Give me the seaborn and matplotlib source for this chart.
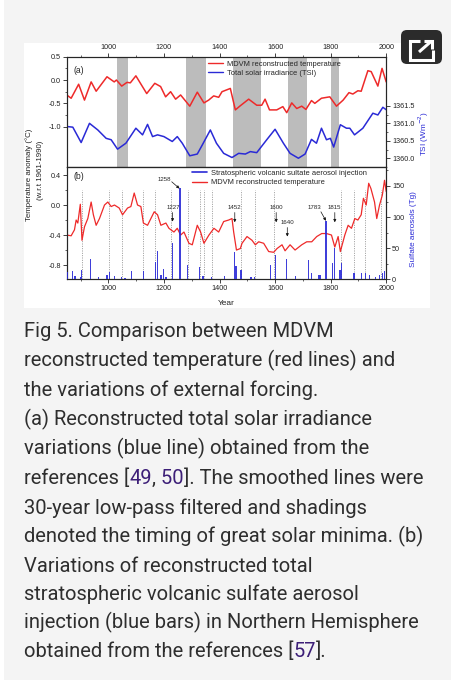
import matplotlib
matplotlib.use("Agg")
import matplotlib.pyplot as plt
import seaborn as sns
import pandas as pd
from matplotlib.patches import Rectangle, FancyBboxPatch
from matplotlib.lines import Line2D
from matplotlib.ticker import FixedLocator

# ---------------- data ----------------
years_a = [850, 866, 893, 914, 938, 956, 995, 1021, 1029, 1048, 1067, 1079, 1099, 1138, 1167,
           1188, 1206, 1224, 1242, 1260, 1293, 1320, 1344, 1361, 1379, 1397, 1409, 1439, 1457, 1473,
           1505, 1534, 1552, 1564, 1580, 1606, 1628, 1642, 1660, 1678, 1696, 1711, 1731, 1743, 1767,
           1797, 1821, 1845, 1866, 1880, 1898, 1910, 1934, 1946, 1970, 1985, 2000]
temp_a = [-0.32, -0.39, -0.09, -0.43, -0.04, -0.24, 0.07, -0.04, 0.0, -0.13, -0.05, -0.06, 0.09, -0.29, -0.07,
          -0.14, -0.36, -0.25, -0.41, -0.32, -0.56, -0.26, -0.49, -0.43, -0.34, -0.37, -0.25, -0.18, -0.64, -0.56,
          -0.41, -0.54, -0.54, -0.41, -0.64, -0.64, -0.57, -0.70, -0.49, -0.61, -0.56, -0.63, -0.44, -0.50, -0.39,
          -0.36, -0.56, -0.43, -0.27, -0.30, -0.23, -0.24, 0.20, 0.18, -0.13, 0.25, -0.04]

tsi_years = [850, 872, 902, 932, 962, 992, 1010, 1033, 1063, 1099, 1123, 1141, 1159, 1177, 1200,
             1230, 1248, 1266, 1293, 1320, 1338, 1367, 1389, 1415, 1445, 1469, 1493, 1511, 1534, 1570,
             1600, 1630, 1654, 1684, 1708, 1731, 1749, 1767, 1785, 1799, 1811, 1835, 1857, 1869, 1886,
             1916, 1952, 1970, 1988, 2000]
tsi = [1360.91, 1360.89, 1360.45, 1361.00, 1360.81, 1360.57, 1360.53, 1360.26, 1360.43, 1360.86,
       1360.67, 1360.97, 1360.62, 1360.67, 1360.62, 1360.48, 1360.62, 1360.43, 1360.07, 1360.12,
       1360.38, 1360.81, 1360.43, 1360.14, 1360.02, 1360.14, 1360.12, 1360.19, 1360.16, 1360.53,
       1360.83, 1360.43, 1360.14, 1360.00, 1360.12, 1360.54, 1360.43, 1360.86, 1360.53, 1360.57,
       1360.32, 1360.96, 1360.86, 1360.86, 1360.67, 1360.86, 1361.29, 1361.24, 1361.46, 1361.39]

minima_start = [1030, 1280, 1450, 1645, 1800]
minima_end = [1070, 1350, 1550, 1715, 1830]

years_b = [850, 866, 878, 884, 890, 899, 905, 914, 926, 938, 946, 956, 968, 986, 998,
           1010, 1022, 1039, 1051, 1069, 1081, 1093, 1105, 1117, 1126, 1141, 1165, 1177, 1189, 1207,
           1218, 1236, 1248, 1260, 1272, 1290, 1302, 1320, 1332, 1344, 1362, 1380, 1397, 1415, 1433,
           1445, 1451, 1461, 1475, 1481, 1499, 1517, 1529, 1541, 1559, 1577, 1595, 1607, 1625, 1636,
           1654, 1672, 1696, 1714, 1732, 1750, 1768, 1785, 1803, 1815, 1827, 1835, 1851, 1863, 1875,
           1887, 1898, 1910, 1918, 1928, 1937, 1945, 1958, 1966, 1976, 1986, 1994, 2000]
temp_b = [-0.40, -0.41, -0.33, -0.20, -0.24, 0.01, -0.47, -0.29, -0.18, 0.04, -0.13, -0.27, -0.18, 0.00, 0.04,
          -0.02, 0.00, -0.04, -0.13, -0.04, -0.02, 0.16, 0.00, -0.02, -0.24, -0.27, -0.09, -0.13, -0.27, -0.24,
          -0.31, -0.36, -0.31, -0.40, -0.36, -0.51, -0.53, -0.27, -0.36, -0.51, -0.40, -0.31, -0.36, -0.22, -0.20,
          -0.18, -0.36, -0.60, -0.58, -0.51, -0.42, -0.47, -0.53, -0.49, -0.51, -0.62, -0.63, -0.58, -0.53, -0.61,
          -0.53, -0.60, -0.53, -0.49, -0.49, -0.42, -0.38, -0.38, -0.40, -0.56, -0.42, -0.62, -0.40, -0.27, -0.31,
          -0.18, -0.20, -0.13, 0.09, 0.00, 0.29, 0.22, 0.04, -0.18, 0.00, 0.13, 0.33, 0.18]

sulf_years = [852, 872, 880, 899, 904, 935, 964, 995, 1004, 1022, 1048, 1060, 1084, 1126, 1169,
              1177, 1189, 1198, 1207, 1230, 1258, 1286, 1329, 1341, 1371, 1417, 1453, 1459, 1477, 1513,
              1527, 1584, 1601, 1641, 1674, 1719, 1730, 1758, 1764, 1783, 1808, 1815, 1834, 1838, 1884,
              1911, 1926, 1940, 1962, 1976, 1986, 1994]
sulf_tg = [11, 13, 6, 4, 15, 32, 4, 7, 11, 6, 3, 2, 13, 13, 28,
           46, 7, 17, 4, 59, 146, 23, 19, 5, 4, 5, 44, 21, 15, 4,
           3, 23, 39, 32, 5, 31, 10, 7, 7, 93, 26, 50, 15, 27, 10,
           10, 10, 7, 4, 7, 10, 13]

eruption_marks = [905, 1004, 1048, 1125, 1169, 1227, 1287, 1330, 1343, 1373, 1477, 1529, 1596,
                  1836, 1884, 1925, 1983]

annot_labels = ["1258", "1227", "1452", "1600", "1640", "1783", "1815"]

x_ticks = [1000, 1200, 1400, 1600, 1800, 2000]
ya_ticks = [-1.0, -0.5, 0.0, 0.5]
tsi_ticks = [1360.0, 1360.5, 1361.0, 1361.5]
yb_ticks = [-0.8, -0.4, 0.0, 0.4]
sulf_ticks = [0, 50, 100, 150]

caption_lines = [
    [("Fig 5. Comparison between MDVM", "d")],
    [("reconstructed temperature (red lines) and", "d")],
    [("the variations of external forcing.", "d")],
    [("(a) Reconstructed total solar irradiance", "d")],
    [("variations (blue line) obtained from the", "d")],
    [("references [", "d"), ("49", "l"), (",", "d"), (" 50", "l"), ("]. The smoothed lines were", "d")],
    [("30-year low-pass filtered and shadings", "d")],
    [("denoted the timing of great solar minima. (b)", "d")],
    [("Variations of reconstructed total", "d")],
    [("stratospheric volcanic sulfate aerosol", "d")],
    [("injection (blue bars) in Northern Hemisphere", "d")],
    [("obtained from the references [", "d"), ("57", "l"), ("].", "d")],
]

# ---------------- style ----------------
sns.set_style("ticks")
plt.rcParams['font.family'] = ['Liberation Sans', 'DejaVu Sans']
plt.rcParams['axes.unicode_minus'] = False

RED = '#ee2a2a'
BLUE = '#2a2ad6'
W, H = 458, 680

fig = plt.figure(figsize=(W / 100, H / 100), dpi=100)
bg = fig.add_axes([0, 0, 1, 1], zorder=-5)
bg.set_xlim(0, W)
bg.set_ylim(H, 0)
bg.axis('off')
bg.add_patch(Rectangle((0, 0), W, H, color='white', lw=0))
bg.add_patch(Rectangle((4, 0), 446.5, H, color='#f4f4f4', lw=0))
bg.add_patch(Rectangle((24, 42.7), 406, 265, color='white', lw=0))

# icon
bg.add_patch(FancyBboxPatch((404, 33), 35, 28, boxstyle='round,pad=3,rounding_size=6',
                            color='#2b2b2b', lw=0))
bg.plot([420, 409.5, 409.5, 432.5, 432.5], [40.5, 40.5, 59.5, 59.5, 50], color='white',
        lw=2.2, solid_joinstyle='miter', solid_capstyle='butt')
bg.plot([419, 431], [52, 41.5], color='white', lw=2.2, solid_capstyle='butt')
bg.plot([424, 432, 432], [41, 41, 49], color='white', lw=2.2, solid_joinstyle='miter',
        solid_capstyle='butt')


def fx(px):
    return px / W


def fy(py):
    return 1 - py / H


L, R = 66.7, 386.2
ax1 = fig.add_axes([fx(L), fy(167.3), fx(R - L), (167.3 - 56.7) / H])
ax2 = fig.add_axes([fx(L), fy(279.3), fx(R - L), (279.3 - 167.3) / H])

tick_kw = dict(direction='out', length=3, width=0.6, labelsize=5.2, pad=1.2, colors='#222222')
minor_kw = dict(direction='out', length=1.6, width=0.5)

# ----- panel (a) -----
for s, e in zip(minima_start, minima_end):
    ax1.axvspan(s, e, color='#bcbcbc', lw=0, zorder=0)
df_a = pd.DataFrame({'year': years_a, 'temp': temp_a})
sns.lineplot(data=df_a, x='year', y='temp', ax=ax1, color=RED, lw=1.1, legend=False)
ax1.set_xlim(850, 2000)
ax1.set_ylim(-1.87, 0.5)
ax1.yaxis.set_major_locator(FixedLocator(ya_ticks))
ax1.set_yticklabels([f"{v:.1f}" for v in ya_ticks])
ax1.yaxis.set_minor_locator(FixedLocator([-0.75, -0.25, 0.25]))
ax1.xaxis.tick_top()
ax1.xaxis.set_major_locator(FixedLocator(x_ticks))
ax1.set_xticklabels([str(v) for v in x_ticks])
ax1.xaxis.set_minor_locator(FixedLocator([900, 1100, 1300, 1500, 1700, 1900]))
ax1.tick_params(axis='both', which='major', **tick_kw)
ax1.tick_params(axis='both', which='minor', **minor_kw)
ax1.set_xlabel('')
ax1.set_ylabel('')
ax1.text(0.02, 0.92, '(a)', transform=ax1.transAxes, fontsize=6.2, va='top', ha='left')

ax1t = ax1.twinx()
df_tsi = pd.DataFrame({'year': tsi_years, 'tsi': tsi})
sns.lineplot(data=df_tsi, x='year', y='tsi', ax=ax1t, color=BLUE, lw=1.1, legend=False)
ax1t.set_ylim(1359.74, 1362.91)
ax1t.yaxis.set_major_locator(FixedLocator(tsi_ticks))
ax1t.set_yticklabels([f"{v:.1f}" for v in tsi_ticks])
ax1t.yaxis.set_minor_locator(FixedLocator([1360.25, 1360.75, 1361.25]))
ax1t.tick_params(axis='y', which='major', **tick_kw)
ax1t.tick_params(axis='y', which='minor', **minor_kw)
ax1t.set_ylabel('')
ax1t.set_xlim(850, 2000)
ax1t.legend(handles=[Line2D([], [], color=RED, lw=1.0), Line2D([], [], color=BLUE, lw=1.0)],
            labels=['MDVM reconstructed temperature', 'Total solar irradiance (TSI)'],
            loc='upper left', bbox_to_anchor=(fx(207.5), fy(60.5)), bbox_transform=fig.transFigure,
            frameon=False, fontsize=5.4, handlelength=2.0, handletextpad=0.65,
            labelspacing=0.25, borderpad=0, borderaxespad=0)

# ----- panel (b) -----
df_b = pd.DataFrame({'year': years_b, 'temp': temp_b})
ax2.vlines(eruption_marks, -0.99, 0.2, colors='#8a8a8a', linestyles=(0, (1.2, 1.6)), lw=0.6, zorder=1)
sns.lineplot(data=df_b, x='year', y='temp', ax=ax2, color=RED, lw=0.9, legend=False, zorder=2)
ax2.set_xlim(850, 2000)
ax2.set_ylim(-0.99, 0.503)
ax2.yaxis.set_major_locator(FixedLocator(yb_ticks))
ax2.set_yticklabels([f"{v:.1f}" for v in yb_ticks])
ax2.yaxis.set_minor_locator(FixedLocator([-0.6, -0.2, 0.2]))
ax2.xaxis.set_major_locator(FixedLocator(x_ticks))
ax2.set_xticklabels([str(v) for v in x_ticks])
ax2.xaxis.set_minor_locator(FixedLocator([900, 1100, 1300, 1500, 1700, 1900]))
ax2.tick_params(axis='both', which='major', **tick_kw)
ax2.tick_params(axis='both', which='minor', **minor_kw)
ax2.set_xlabel('')
ax2.set_ylabel('')
ax2.text(0.02, 0.955, '(b)', transform=ax2.transAxes, fontsize=6.2, va='top', ha='left')

ax2t = ax2.twinx()
ax2t.bar(sulf_years, sulf_tg, width=4.5, color=BLUE, lw=0, alpha=0.9, zorder=3)
ax2t.set_ylim(0, 180)
ax2t.set_xlim(850, 2000)
ax2t.yaxis.set_major_locator(FixedLocator(sulf_ticks))
ax2t.set_yticklabels([str(v) for v in sulf_ticks])
ax2t.yaxis.set_minor_locator(FixedLocator([25, 75, 125, 175]))
ax2t.tick_params(axis='y', which='major', **tick_kw)
ax2t.tick_params(axis='y', which='minor', **minor_kw)
ax2t.legend(handles=[Line2D([], [], color=BLUE, lw=1.2), Line2D([], [], color=RED, lw=1.0)],
            labels=['Stratospheric volcanic sultate aerosol injection', 'MDVM reconstructed temperature'],
            loc='upper left', bbox_to_anchor=(fx(191.5), fy(169.8)), bbox_transform=fig.transFigure,
            frameon=False, fontsize=5.4, handlelength=2.0, handletextpad=0.65,
            labelspacing=0.25, borderpad=0, borderaxespad=0)

# annotations (in temperature coords of panel b)
arrow = dict(arrowstyle='-|>', lw=0.5, color='#111111', mutation_scale=4, shrinkA=0, shrinkB=0)
ann_pos = [((1201, 0.34), (1228, 0.31), (1256, 0.22)),
           ((1234, -0.03), (1231, -0.10), (1231, -0.22)),
           ((1455, -0.03), (1455, -0.10), (1455, -0.23)),
           ((1606, -0.03), (1604, -0.10), (1604, -0.23)),
           ((1644, -0.23), (1644, -0.30), (1644, -0.42)),
           ((1743, -0.03), (1765, -0.09), (1783, -0.21)),
           ((1814, -0.03), (1815, -0.10), (1815, -0.23))]
for lab, (tp, a0, a1) in zip(annot_labels, ann_pos):
    ax2.text(tp[0], tp[1], lab, fontsize=4.4, ha='center', va='center', zorder=6)
    ax2.annotate('', xy=a1, xytext=a0, arrowprops=arrow, zorder=6)

# axis labels
lab_kw = dict(rotation=90, ha='center', va='center', fontsize=5.7, color='#222222')
bg.text(29.5, 175, 'Temperature anomaly (°C)', **lab_kw)
bg.text(40.5, 170, '(w.r.t 1961-1990)', **lab_kw)
bg.text(423.5, 133, 'TSI (Wm$^{-2}$)', rotation=90, ha='center', va='center', fontsize=5.9, color=BLUE)
bg.text(413.5, 229, 'Sulfate aerosols (Tg)', rotation=90, ha='center', va='center', fontsize=5.9, color=BLUE)
bg.text(226.5, 303.5, 'Year', ha='center', va='center', fontsize=6.0, color='#222222')

# ----- caption -----
cap_kw = dict(fontsize=14.5, family=['Roboto', 'DejaVu Sans'], va='baseline')
colors = {'d': '#2e2e2e', 'l': '#3d1f78'}
renderer = fig.canvas.get_renderer()


def width_of(s):
    t = bg.text(0, 0, s, **cap_kw)
    w = t.get_window_extent(renderer).width
    t.remove()
    return w


baselines = [336.7, 366.5, 395.7, 425.0, 454.3, 484.0, 513.5, 542.5, 571.5, 600.0, 628.5, 656.7]
for parts, yb in zip(caption_lines, baselines):
    if len(parts) == 1:
        bg.text(24, yb, parts[0][0], color=colors[parts[0][1]], ha='left', **cap_kw)
        continue
    acc = ''
    for txt, c in parts:
        acc += txt
        bg.text(24 + width_of(acc), yb, txt, color=colors[c], ha='right', **cap_kw)

fig.savefig('out.png', dpi=100)
